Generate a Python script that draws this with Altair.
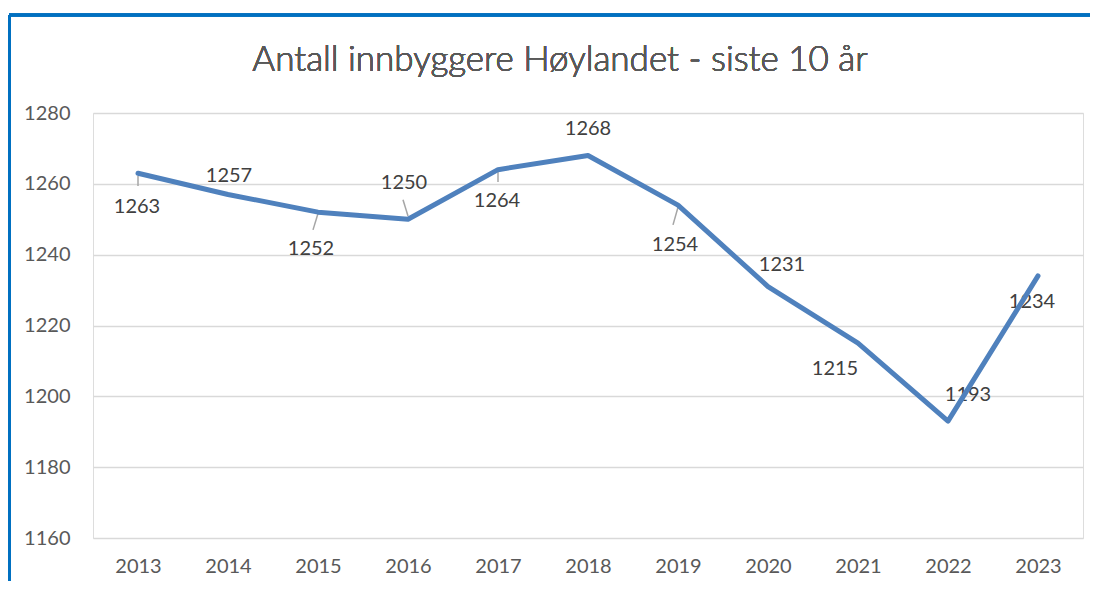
import altair as alt
import pandas as pd

years = ["2013", "2014", "2015", "2016", "2017", "2018", "2019", "2020", "2021", "2022", "2023"]
values = [1263, 1257, 1252, 1250, 1264, 1268, 1254, 1231, 1215, 1193, 1234]

# label placement offsets (pixels, relative to each point) - annotation styling
label_dx = [-1, 1, -7, -4, -1, 0, -3, 14, -23, 20, -6]
label_dy = [34, -18, 37, -36, 31, -27, 40, -22, 26, -26, 26]

# leader lines (year, start value, end value)
leader_years_v = ["2013", "2017"]
leader_from_v = [1262.2, 1263.5]
leader_to_v = [1259.4, 1260.5]
leader_years_s = ["2015", "2016", "2019"]
leader_from_s = [1251.6, 1250.9, 1253.4]
leader_to_s = [1247.0, 1255.5, 1248.4]

TITLE = "Antall innbyggere Høylandet - siste 10 år"
FONT = "Lato"

df = pd.DataFrame({"year": years, "value": values})
lv = pd.DataFrame({"year": leader_years_v, "a": leader_from_v, "b": leader_to_v})
ls = pd.DataFrame({"year": leader_years_s, "a": leader_from_s, "b": leader_to_s})

W, H = 990, 425

xscale = alt.Scale(type="point", padding=0.5)
yscale = alt.Scale(domain=[1160, 1280], zero=False, nice=False)

x = alt.X("year:O", scale=xscale, sort=years,
          axis=alt.Axis(title=None, labelAngle=0, labelAlign="center", domain=False,
                        ticks=False, labelPadding=28, labelFontSize=20,
                        labelColor="#595959", labelFont=FONT, grid=False))
y = alt.Y("value:Q", scale=yscale,
          axis=alt.Axis(title=None, values=[1160, 1180, 1200, 1220, 1240, 1260, 1280],
                        format="d", domain=False, ticks=False, labelPadding=23,
                        labelFontSize=20, labelColor="#595959", labelFont=FONT,
                        grid=True, gridColor="#d9d9d9", gridWidth=1.5))

line = alt.Chart(df).mark_line(color="#4F81BD", strokeWidth=5,
                               strokeJoin="round", strokeCap="round").encode(x=x, y=y)

label_layers = []
for yr, dx, dy in zip(years, label_dx, label_dy):
    label_layers.append(
        alt.Chart(df).transform_filter(alt.datum.year == yr).mark_text(
            fontSize=20, font=FONT, color="#404040", baseline="middle",
            align="center", dx=dx, dy=dy).encode(
            x=alt.X("year:O", scale=xscale, sort=years),
            y=alt.Y("value:Q", scale=yscale),
            text=alt.Text("value:Q", format="d"),
        )
    )

lead_v = alt.Chart(lv).mark_rule(color="#a6a6a6", strokeWidth=1.5).encode(
    x=alt.X("year:O", scale=xscale, sort=years),
    y=alt.Y("a:Q", scale=yscale), y2="b:Q")

lead_s = alt.Chart(ls).mark_rule(color="#a6a6a6", strokeWidth=1.5, x2Offset=-5).encode(
    x=alt.X("year:O", scale=xscale, sort=years),
    x2=alt.X2("year:O"),
    y=alt.Y("a:Q", scale=yscale), y2="b:Q")

title = alt.Chart(df).mark_text(text=TITLE, fontSize=35, font=FONT, fontWeight=300,
                                color="#595959", align="center", baseline="middle").encode(
    x=alt.value(467), y=alt.value(-53))

border_top = alt.Chart(df).mark_rule(color="#0070C0", strokeWidth=2.5).encode(
    x=alt.value(-84), x2=alt.value(1010), y=alt.value(-98))
border_left = alt.Chart(df).mark_rule(color="#0070C0", strokeWidth=2.5).encode(
    x=alt.value(-83.5), y=alt.value(-98), y2=alt.value(480))

chart = alt.layer(border_top, border_left, title, lead_v, lead_s, *label_layers, line).properties(
    width=W, height=H,
    autosize=alt.AutoSizeParams(type="none"),
    padding={"left": 85, "top": 105, "right": 7, "bottom": 43},
).configure_view(stroke="#d9d9d9", strokeWidth=2).configure(background="white")

chart.save("out.html", embed_options={"renderer": "svg", "actions": False})
